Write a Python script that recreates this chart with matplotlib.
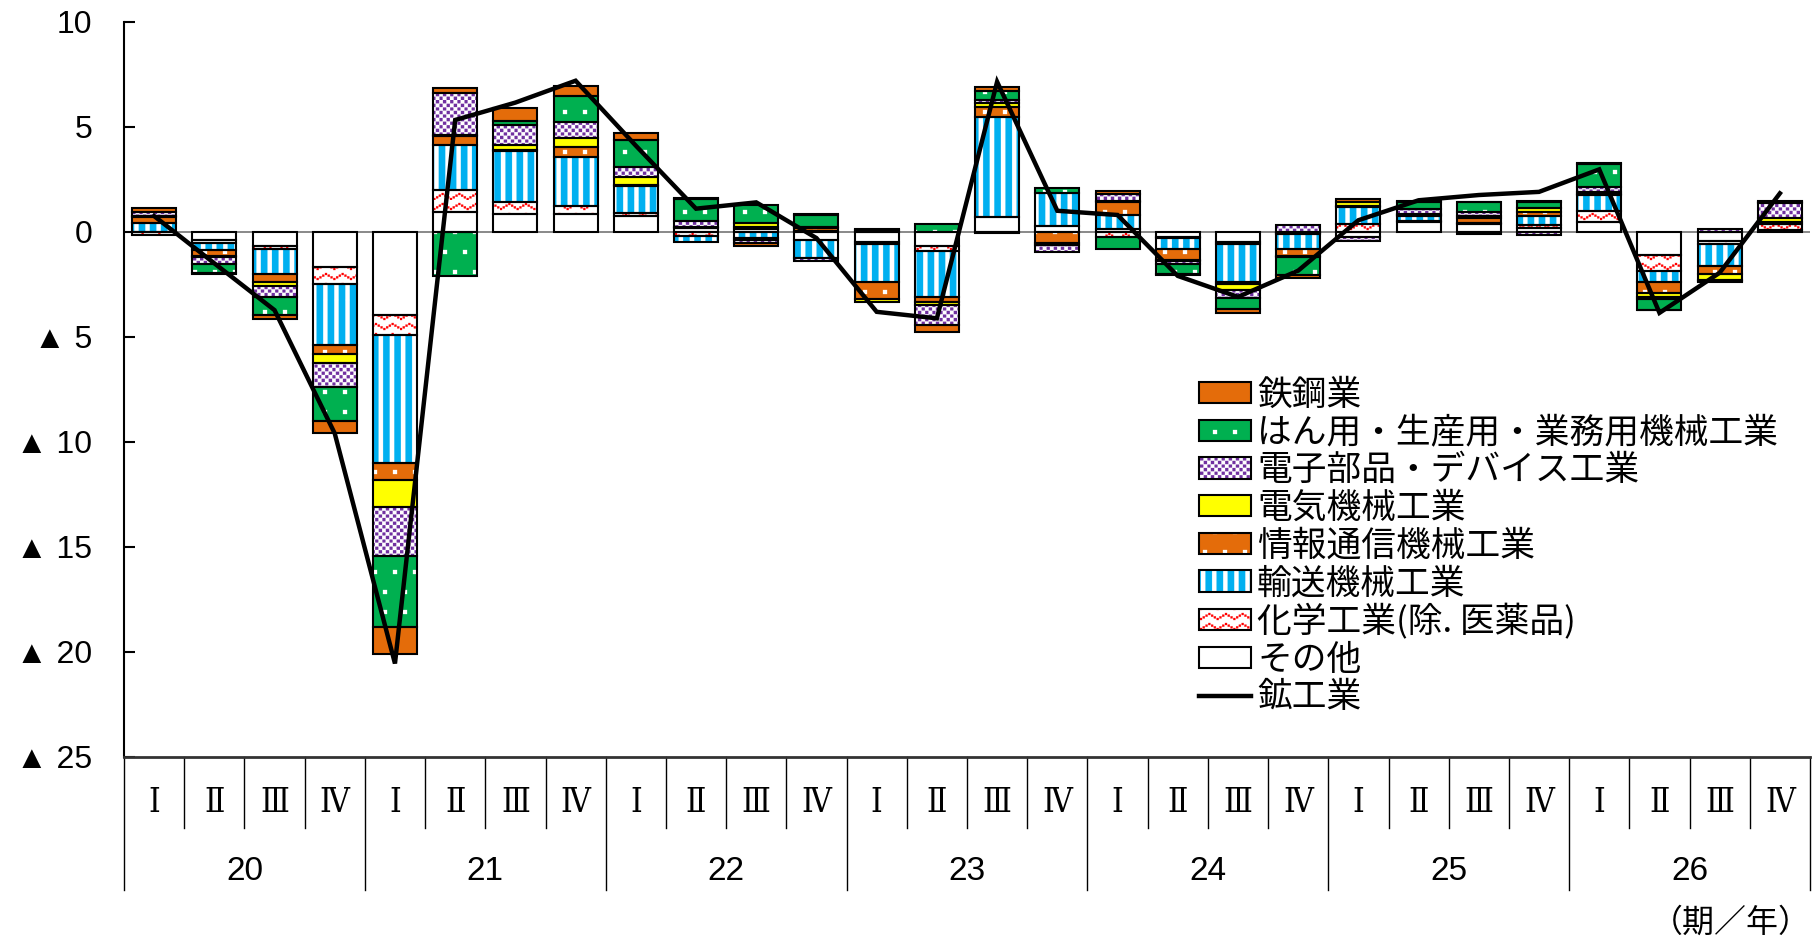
import numpy as np
import matplotlib
matplotlib.use("Agg")
import matplotlib.pyplot as plt
import matplotlib.hatch as mhatch
from matplotlib.path import Path
from matplotlib.patches import Patch
from matplotlib.lines import Line2D

# ---------------- data ----------------
quarter_labels = ["Ⅰ", "Ⅱ", "Ⅲ", "Ⅳ"] * 7
year_labels = ["20", "21", "22", "23", "24", "25", "26"]

steel = [0.20, -0.05, -0.20, -0.57, -1.27, 0.24, 0.63, 0.48,
         0.33, 0.05, -0.12, 0.03, 0.03, -0.37, 0.20, 0.00,
         0.15, -0.03, -0.18, -0.15, 0.15, 0.05, 0.03, 0.05,
         0.05, -0.03, -0.05, 0.03]
machinery = [0.00, -0.45, -0.85, -1.60, -3.37, -2.11, 0.20, 1.25,
             1.30, 1.02, 0.87, 0.60, 0.10, 0.35, 0.45, 0.24,
             -0.55, -0.50, -0.53, -0.87, 0.00, 0.35, 0.48, 0.32,
             1.10, -0.50, -0.03, 0.05]
devices = [0.17, -0.30, -0.50, -1.17, -2.34, 2.00, 0.95, 0.76,
           0.45, 0.32, -0.15, -0.15, 0.00, -0.92, 0.10, -0.30,
           0.35, -0.15, -0.37, 0.30, -0.20, 0.25, 0.15, -0.15,
           0.25, -0.10, 0.15, 0.70]
electrical = [0.05, -0.05, -0.22, -0.40, -1.30, 0.05, 0.22, 0.43,
              0.40, 0.03, 0.17, 0.02, -0.15, -0.14, 0.20, -0.10,
              0.05, -0.05, -0.30, -0.05, 0.15, 0.05, 0.12, 0.16,
              0.10, -0.20, -0.27, 0.20]
ict = [0.28, -0.29, -0.35, -0.44, -0.80, 0.43, 0.05, 0.48,
       0.05, 0.02, -0.10, 0.15, -0.82, -0.26, 0.50, -0.55,
       0.60, -0.52, -0.10, -0.35, 0.05, 0.05, 0.25, 0.20,
       0.03, -0.52, -0.40, 0.10]
transport = [0.43, -0.32, -1.20, -2.90, -6.08, 2.15, 2.43, 2.30,
             1.30, -0.30, -0.30, -0.85, -1.80, -2.20, 4.77, 1.54,
             0.65, -0.50, -1.80, -0.70, 0.85, 0.23, -0.10, 0.45,
             0.77, -0.52, -1.05, 0.02]
chemical = [-0.15, -0.15, -0.15, -0.83, -0.95, 1.03, 0.56, 0.37,
            0.13, -0.20, 0.10, 0.05, -0.10, -0.20, -0.05, 0.00,
            -0.25, -0.05, -0.10, -0.05, 0.35, 0.02, 0.05, 0.10,
            0.50, -0.75, -0.15, 0.25]
other = [-0.02, -0.40, -0.67, -1.67, -3.97, 0.95, 0.87, 0.87,
         0.75, 0.16, 0.15, -0.40, -0.48, -0.70, 0.68, 0.29,
         0.15, -0.25, -0.48, -0.05, -0.25, 0.48, 0.35, 0.20,
         0.48, -1.11, -0.43, 0.10]
mining_total = [0.75, -1.50, -3.73, -9.60, -20.55, 5.32, 6.15, 7.19,
                4.10, 1.10, 1.40, -0.30, -3.81, -4.12, 7.14, 1.00,
                0.80, -2.10, -3.10, -1.85, 0.55, 1.50, 1.75, 1.90,
                2.97, -3.86, -1.95, 1.83]

yticks = [10, 5, 0, -5, -10, -15, -20, -25]
ytick_labels = ["10", "5", "0", "▲ 5", "▲ 10", "▲ 15", "▲ 20", "▲ 25"]

# ---------------- custom fill patterns ----------------
def _sq(x, y, w, h):
    return [(x, y), (x + w, y), (x + w, y + h), (x, y + h), (x, y)]


class _PolyHatch(mhatch.HatchPatternBase):
    char = ""

    def __init__(self, hatch, density):
        self.polys = self.build() if (hatch and self.char in hatch) else []
        self.num_vertices = 5 * len(self.polys)

    def build(self):
        return []

    def set_vertices_and_codes(self, vertices, codes):
        for i, p in enumerate(self.polys):
            vertices[5 * i:5 * i + 5] = p
            codes[5 * i] = Path.MOVETO
            codes[5 * i + 1:5 * i + 4] = Path.LINETO
            codes[5 * i + 4] = Path.CLOSEPOLY


class Stripes(_PolyHatch):
    char = "|"

    def build(self):
        return [_sq(i / 9 + 0.01, 0.0, 0.042, 1.0) for i in range(9)]


class Checker(_PolyHatch):
    char = "x"

    def build(self):
        n = 28
        return [_sq(i / n, j / n, 1 / n, 1 / n)
                for i in range(n) for j in range(n) if (i + j) % 2 == 0]


class Specks(_PolyHatch):
    char = "."

    def build(self):
        s = 0.04
        out = []
        for j in range(5):
            for i in range(5):
                out.append(_sq((i * 0.2 + (j % 2) * 0.1 + 0.03) % 1.0,
                               j * 0.2 + 0.06, s, s))
        return out


class Zigzag(_PolyHatch):
    char = "o"

    def build(self):
        s = 0.02
        out = []
        for r in range(10):
            for c in range(6):
                for k in range(6):
                    t = k / 6
                    x = (c + t) / 6
                    y = r * 0.1 + 0.05 * (1 - abs(2 * t - 1))
                    out.append(_sq(x, y, s, s))
        return out


mhatch._hatch_types[:] = [Stripes, Checker, Specks, Zigzag]
plt.rcParams["hatch.linewidth"] = 0.2

# ---------------- fonts ----------------
JP = "Noto Sans CJK JP"
SANS = "Liberation Sans"
SERIF = "DejaVu Serif"
plt.rcParams["font.family"] = [JP, "DejaVu Sans"]

ORANGE = "#E46C0A"
GREEN = "#00B050"
PURPLE = "#7030A0"
YELLOW = "#FFFF00"
CYAN = "#00B0F0"
RED = "#FF0000"

# stacking order from zero outwards
series = [
    ("その他", other, "white", None, None),
    ("化学工業(除. 医薬品)", chemical, "white", "o", RED),
    ("輸送機械工業", transport, CYAN, "|", "white"),
    ("情報通信機械工業", ict, ORANGE, ".", "white"),
    ("電気機械工業", electrical, YELLOW, None, None),
    ("電子部品・デバイス工業", devices, PURPLE, "x", "white"),
    ("はん用・生産用・業務用機械工業", machinery, GREEN, ".", "white"),
    ("鉄鋼業", steel, ORANGE, None, None),
]

W, H = 1812, 940
fig = plt.figure(figsize=(W / 100, H / 100), dpi=100)
ax_l, ax_r, ax_t, ax_b = 124, 1810, 21.7, 757
ax = fig.add_axes([ax_l / W, 1 - ax_b / H, (ax_r - ax_l) / W, (ax_b - ax_t) / H])

n = len(mining_total)
x = np.arange(n)
bw = 0.73
EDGE_LW = 1.5

ax.axhline(0, color="#808080", lw=1.3, zorder=1)

pos = np.zeros(n)
neg = np.zeros(n)
handles = {}
for label, vals, fc, hatch, hc in series:
    v = np.asarray(vals, dtype=float)
    bottom = np.where(v >= 0, pos, neg)
    lws = np.where(v == 0, 0.0, EDGE_LW)
    ax.bar(x, v, bw, bottom=bottom, facecolor=fc,
           edgecolor=(hc if hatch else fc), hatch=hatch, linewidth=0, zorder=2)
    ax.bar(x, v, bw, bottom=bottom, fill=False, edgecolor="black",
           linewidth=lws, zorder=3)
    pos += np.clip(v, 0, None)
    neg += np.clip(v, None, 0)
    handles[label] = (Patch(facecolor=fc, edgecolor=(hc if hatch else fc), hatch=hatch, linewidth=0),
                      Patch(fill=False, edgecolor="black", linewidth=EDGE_LW))

ax.plot(x, mining_total, color="black", lw=3.2, zorder=5, solid_joinstyle="miter")
handles["鉱工業"] = Line2D([], [], color="black", lw=3.2)

ax.set_xlim(-0.5, n - 0.5)
ax.set_ylim(-25, 10)
for s in ["top", "right"]:
    ax.spines[s].set_visible(False)
ax.spines["left"].set_linewidth(1.5)
ax.spines["bottom"].set_linewidth(2.0)
ax.spines["bottom"].set_color("#333333")
ax.set_xticks([])
ax.set_yticks(yticks)
ax.set_yticklabels(ytick_labels, family=[SANS, JP], fontsize=23)
ax.tick_params(axis="y", direction="in", length=8, width=1.5, pad=23)

# category axis below
ax_h = ax_b - ax_t
tr = ax.get_xaxis_transform()
for k in range(n + 1):
    depth = (890 - ax_b) if k % 4 == 0 else (828 - ax_b)
    ax.add_line(Line2D([k - 0.5, k - 0.5], [0, -depth / ax_h], transform=tr,
                       color="black", lw=1.0, clip_on=False))
for i, q in enumerate(quarter_labels):
    ax.text(i, -(803.5 - ax_b) / ax_h, q, transform=tr, ha="center", va="center",
            fontsize=24, family=[SERIF, JP], fontstretch="condensed")
for j, yl in enumerate(year_labels):
    ax.text(4 * j + 1.5, -(871 - ax_b) / ax_h, yl, transform=tr, ha="center",
            va="center", fontsize=24, family=[SANS, JP])

fig.text(1811 / W, 1 - 923 / H, "（期／年）", ha="right", va="center", fontsize=23)

order = ["鉄鋼業", "はん用・生産用・業務用機械工業", "電子部品・デバイス工業", "電気機械工業",
         "情報通信機械工業", "輸送機械工業", "化学工業(除. 医薬品)", "その他", "鉱工業"]
leg = fig.legend([handles[k] for k in order], order, loc="upper left",
                 bbox_to_anchor=(1199 / W, 1 - 378 / H), bbox_transform=fig.transFigure,
                 frameon=False, fontsize=25, borderpad=0, borderaxespad=0,
                 handlelength=1.5, handleheight=0.576, handletextpad=0.17,
                 labelspacing=0.076)

fig.savefig("out.png", dpi=100)
